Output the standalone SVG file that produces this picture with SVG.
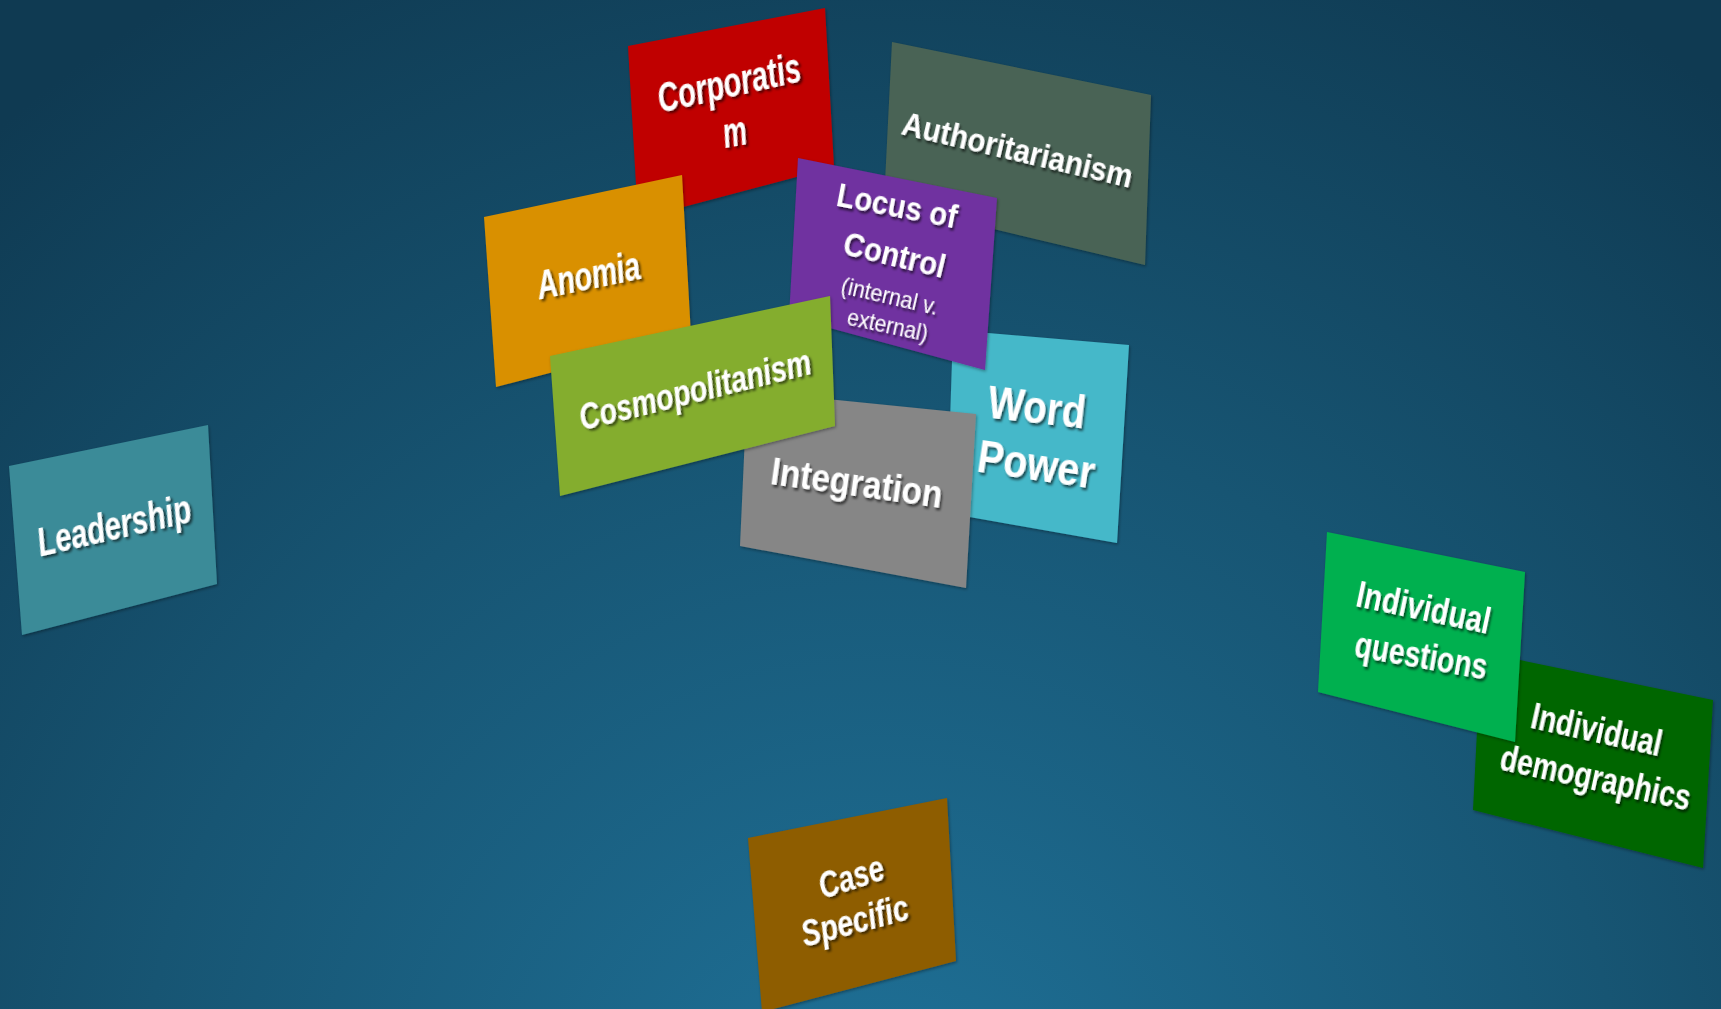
<svg xmlns="http://www.w3.org/2000/svg" width="1721" height="1009" viewBox="0 0 1721 1009">
<defs>
<radialGradient id="bg" cx="880" cy="1150" r="1350" gradientUnits="userSpaceOnUse">
<stop offset="0" stop-color="#1f7299"/>
<stop offset="0.55" stop-color="#175573"/>
<stop offset="1" stop-color="#0f3a52"/>
</radialGradient>
<filter id="ts" x="-10%" y="-30%" width="120%" height="160%">
<feDropShadow dx="2" dy="2.5" stdDeviation="1.2" flood-color="#000" flood-opacity="0.6"/>
</filter>
<filter id="cs" x="-5%" y="-5%" width="110%" height="110%">
<feDropShadow dx="1" dy="1.5" stdDeviation="1.5" flood-color="#000" flood-opacity="0.35"/>
</filter>
</defs>
<style>
.card{filter:url(#cs)}
.t{font-family:"Liberation Sans",Arial,sans-serif;font-weight:bold;fill:#fff;text-anchor:middle;filter:url(#ts)}
.i{font-style:italic}
.n{font-weight:normal}
</style>
<rect width="1721" height="1009" fill="url(#bg)"/>
<g id="connectors"/>
<g id="authoritarianism">
<polygon class="card" points="892,42 1151,95 1145,265 884,203" fill="#4a6454"/>
<text class="t" font-size="34" textLength="236" lengthAdjust="spacingAndGlyphs" transform="translate(1015,161) rotate(13.2)">Authoritarianism</text>
</g>
<g id="corporatism">
<polygon class="card" points="628,46 825,8 834,167 638,219" fill="#c00000"/>
<text class="t i" font-size="42" textLength="146" lengthAdjust="spacingAndGlyphs" transform="translate(732,97) rotate(-12.7)">Corporatis</text>
<text class="t i" font-size="42" textLength="24" lengthAdjust="spacingAndGlyphs" transform="translate(737,146) rotate(-10)">m</text>
</g>
<g id="anomia">
<polygon class="card" points="484,217 682,175 691,336 496,387" fill="#d99000"/>
<text class="t i" font-size="40" textLength="105" lengthAdjust="spacingAndGlyphs" transform="translate(591,289) rotate(-11.5)">Anomia</text>
</g>
<g id="word-power">
<polygon class="card" points="953,330 1129,345 1117,543 947,513" fill="#45b8c9"/>
<text class="t" font-size="46" textLength="98" lengthAdjust="spacingAndGlyphs" transform="translate(1035,423) rotate(6.5)">Word</text>
<text class="t" font-size="46" textLength="118" lengthAdjust="spacingAndGlyphs" transform="translate(1034,480) rotate(8.4)">Power</text>
</g>
<g id="locus-of-control">
<polygon class="card" points="798,158 997,198 985,370 789,317" fill="#7030a0"/>
<text class="t" font-size="34" textLength="122" lengthAdjust="spacingAndGlyphs" transform="translate(895,217) rotate(10.8)">Locus of</text>
<text class="t" font-size="34" textLength="104" lengthAdjust="spacingAndGlyphs" transform="translate(892,266) rotate(13.5)">Control</text>
<text class="t n" font-size="24" textLength="99" lengthAdjust="spacingAndGlyphs" transform="translate(888,304) rotate(13)">(internal v.</text>
<text class="t n" font-size="24" textLength="82" lengthAdjust="spacingAndGlyphs" transform="translate(886,333) rotate(12)">external)</text>
</g>
<g id="integration">
<polygon class="card" points="747,391 976,414 966,588 740,546" fill="#868686"/>
<text class="t" font-size="38" textLength="173" lengthAdjust="spacingAndGlyphs" transform="translate(855,496) rotate(8)">Integration</text>
</g>
<g id="cosmopolitanism">
<polygon class="card" points="550,356 830,296 835,426 560,496" fill="#84ad2f"/>
<text class="t i" font-size="37" textLength="238" lengthAdjust="spacingAndGlyphs" transform="translate(698,402) rotate(-13.9)">Cosmopolitanism</text>
</g>
<g id="leadership">
<polygon class="card" points="9,466 208,425 217,584 22,635" fill="#3a8b98"/>
<text class="t i" font-size="41" textLength="157" lengthAdjust="spacingAndGlyphs" transform="translate(117,539) rotate(-12.9)">Leadership</text>
</g>
<g id="individual-demographics">
<polygon class="card" points="1481,652 1713,700 1703,868 1473,810" fill="#006600"/>
<text class="t" font-size="36" textLength="133" lengthAdjust="spacingAndGlyphs" transform="translate(1594,742) rotate(12.5)">Individual</text>
<text class="t" font-size="36" textLength="194" lengthAdjust="spacingAndGlyphs" transform="translate(1593,790) rotate(12.3)">demographics</text>
</g>
<g id="individual-questions">
<polygon class="card" points="1327,532 1525,572 1515,742 1318,692" fill="#00b050"/>
<text class="t" font-size="36" textLength="136" lengthAdjust="spacingAndGlyphs" transform="translate(1421,620) rotate(11.9)">Individual</text>
<text class="t" font-size="36" textLength="134" lengthAdjust="spacingAndGlyphs" transform="translate(1419,668) rotate(10)">questions</text>
</g>
<g id="case-specific">
<polygon class="card" points="748,838 947,798 956,961 762,1012" fill="#8e5d04"/>
<text class="t i" font-size="37" textLength="67" lengthAdjust="spacingAndGlyphs" transform="translate(855,889) rotate(-18)">Case</text>
<text class="t i" font-size="37" textLength="110" lengthAdjust="spacingAndGlyphs" transform="translate(858,933) rotate(-15)">Specific</text>
</g>
</svg>
